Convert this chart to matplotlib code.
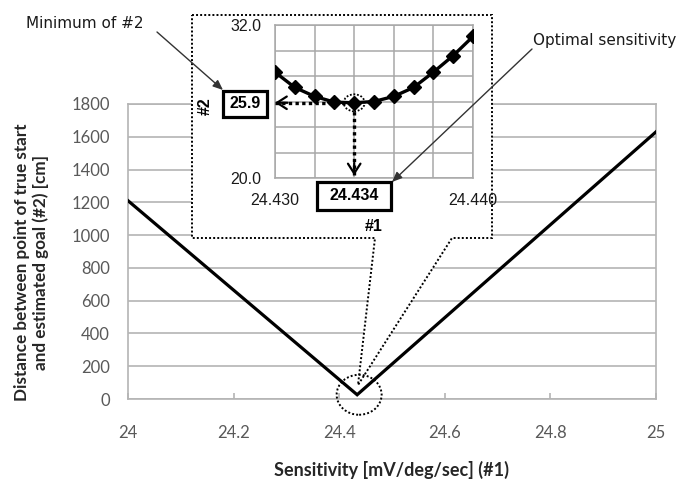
import matplotlib
matplotlib.use('Agg')
import matplotlib.pyplot as plt
from matplotlib.patches import Polygon, Ellipse, Rectangle, FancyArrowPatch
from matplotlib.transforms import ScaledTranslation

# ---------------- data ----------------
sens_main = [24.0, 24.434, 25.0]
dist_main = [1210, 25.9, 1630]
main_xticks = [24.0, 24.2, 24.4, 24.6, 24.8, 25.0]
main_xlabels = ['24', '24.2', '24.4', '24.6', '24.8', '25']
main_yticks = [0, 200, 400, 600, 800, 1000, 1200, 1400, 1600, 1800]

sens_zoom = [24.430, 24.431, 24.432, 24.433, 24.434, 24.435,
             24.436, 24.437, 24.438, 24.439, 24.440]
dist_zoom = [28.3, 27.1, 26.4, 25.95, 25.9, 26.0, 26.4, 27.1, 28.3, 29.6, 31.1]
zoom_xticks = [24.430, 24.432, 24.434, 24.436, 24.438, 24.440]
zoom_xlabels = ['24.430', '', '', '', '', '24.440']
zoom_yticks = [20, 22, 24, 26, 28, 30, 32]
zoom_ylabels = ['20.0', '', '', '', '', '', '32.0']
min_x = 24.434
min_y = 25.9

W, H = 680, 480
def fx(x):
    return x / W
def fy(y):
    return 1 - y / H

grid_c = '#b4b4b4'
tick_c = '#595959'
main_font = 'Lato'

fig = plt.figure(figsize=(6.8, 4.8), dpi=100)

# ---------------- main axes ----------------
ax = fig.add_axes([fx(128), fy(399), (656 - 128) / W, (399 - 104) / H])
ax.plot(sens_main, dist_main, color='black', lw=2.3, solid_joinstyle='miter', zorder=3)
ax.set_xlim(24, 25)
ax.set_ylim(0, 1800)
ax.set_xticks(main_xticks)
ax.set_xticklabels(main_xlabels)
ax.set_yticks(main_yticks)
ax.grid(axis='y', color=grid_c, lw=1.2)
ax.set_axisbelow(True)
for s in ax.spines.values():
    s.set_color(grid_c)
    s.set_linewidth(1.2)
ax.tick_params(axis='x', direction='in', length=4, color=grid_c, width=1.2,
               pad=19, labelsize=12, labelcolor=tick_c)
ax.tick_params(axis='y', length=0, pad=13, labelsize=12, labelcolor=tick_c)
for lab in ax.get_xticklabels() + ax.get_yticklabels():
    lab.set_fontfamily(main_font)
ax.set_xlabel('Sensitivity [mV/deg/sec] (#1)', fontsize=13, fontweight='bold',
              fontfamily=main_font, color='#262626', va='center')
ax.xaxis.set_label_coords(0.5, -0.24)
ax.set_ylabel('Distance between point of true start\nand estimated goal (#2) [cm]',
              fontsize=12.3, fontweight='bold', fontfamily=main_font, color='#262626',
              va='center', linespacing=1.15)
ax.yaxis.set_label_coords(-0.183, 0.464)

# callout shape (white with dotted border)
pts = [(192, 15), (492, 15), (492, 238), (452, 238), (358, 385), (375, 238), (192, 238)]
callout = Polygon([(fx(x), fy(y)) for x, y in pts], closed=True,
                  transform=fig.transFigure, facecolor='white', edgecolor='black',
                  lw=1.4, linestyle=(0, (1, 1.1)), zorder=1)
fig.add_artist(callout)

# dotted circle around the minimum on main chart
circ_main = Ellipse((0.02, 0.0), 0.45, 0.40,
                    transform=fig.dpi_scale_trans + ScaledTranslation(min_x, min_y, ax.transData),
                    facecolor='none', edgecolor='black', lw=1.4,
                    linestyle=(0, (1, 1.1)), zorder=2)
fig.add_artist(circ_main)

# ---------------- inset axes ----------------
axin = fig.add_axes([fx(275), fy(178), 198 / W, 153 / H])
axin.set_zorder(3)
axin.set_facecolor('white')
axin.plot(sens_zoom, dist_zoom, color='black', lw=2.4, marker='D', ms=7.5, zorder=3)
axin.set_xlim(24.430, 24.440)
axin.set_ylim(20, 32)
axin.set_xticks(zoom_xticks)
axin.set_xticklabels(zoom_xlabels)
axin.set_yticks(zoom_yticks)
axin.set_yticklabels(zoom_ylabels)
axin.grid(True, color='#a8a8a8', lw=1.1)
axin.set_axisbelow(True)
for s in axin.spines.values():
    s.set_color('#a8a8a8')
    s.set_linewidth(1.1)
axin.tick_params(axis='both', length=0, labelsize=11.5, labelcolor='#1a1a1a')
axin.tick_params(axis='x', pad=11)
axin.tick_params(axis='y', pad=10)
for lab in axin.get_xticklabels() + axin.get_yticklabels():
    lab.set_fontfamily('Liberation Sans')
axin.set_xlabel('#1', fontsize=11.5, fontweight='bold', fontfamily='Liberation Sans',
                va='center')
axin.xaxis.set_label_coords(0.5, -0.32)
axin.set_ylabel('#2', fontsize=11.5, fontweight='bold', fontfamily='Liberation Sans',
                va='center')
axin.yaxis.set_label_coords(-0.35, 0.47)

# dotted guide lines to axes
dot = (0, (1, 1))
axin.plot([24.430, min_x], [min_y, min_y], color='black', lw=2.4, linestyle=dot,
          clip_on=False, zorder=4)
axin.plot([min_x, min_x], [20.2, min_y], color='black', lw=2.4, linestyle=dot,
          clip_on=False, zorder=4)
axin.annotate('', xy=(24.430, min_y), xytext=(9, 0), textcoords='offset points',
              arrowprops=dict(arrowstyle='->,head_length=0.7,head_width=0.45',
                              lw=1.6, color='black', shrinkA=0, shrinkB=0))
axin.annotate('', xy=(min_x, 20.2), xytext=(0, 9), textcoords='offset points',
              arrowprops=dict(arrowstyle='->,head_length=0.7,head_width=0.45',
                              lw=1.6, color='black', shrinkA=0, shrinkB=0))
circ_in = Ellipse((0, 0), 0.21, 0.17,
                  transform=fig.dpi_scale_trans + ScaledTranslation(min_x, min_y, axin.transData),
                  facecolor='none', edgecolor='black', lw=1.3,
                  linestyle=(0, (1, 1)), zorder=5)
fig.add_artist(circ_in)

# value boxes
def value_box(x0, y0, x1, y1, text):
    r = Rectangle((fx(x0), fy(y1)), (x1 - x0) / W, (y1 - y0) / H,
                  transform=fig.transFigure, facecolor='white', edgecolor='black',
                  lw=2.3, zorder=6)
    fig.add_artist(r)
    fig.text(fx((x0 + x1) / 2), fy((y0 + y1) / 2), text, ha='center', va='center',
             fontsize=11.5, fontweight='bold', fontfamily='Liberation Sans', zorder=7)

value_box(223, 91, 267, 117, f'{min_y:.1f}')
value_box(317, 182, 391, 210, f'{min_x:.3f}')

# annotations
fig.text(fx(85), fy(23), 'Minimum of #2', ha='center', va='center', fontsize=11,
         fontfamily='DejaVu Sans', color='#1a1a1a', zorder=8)
fig.text(fx(605), fy(40), 'Optimal sensitivity', ha='center', va='center', fontsize=11,
         fontfamily='DejaVu Sans', color='#1a1a1a', zorder=8)
arrow_kw = dict(arrowstyle='-|>,head_length=0.6,head_width=0.25', lw=1.0,
                color='#333333', shrinkA=0, shrinkB=0)
fig.add_artist(FancyArrowPatch(
    (fx(157), fy(32)), (fx(223), fy(90)), transform=fig.transFigure,
    mutation_scale=10, zorder=8, **arrow_kw))
fig.add_artist(FancyArrowPatch(
    (fx(532), fy(49)), (fx(392), fy(182)), transform=fig.transFigure,
    mutation_scale=10, zorder=8, **arrow_kw))

fig.savefig('out.png', dpi=100)
